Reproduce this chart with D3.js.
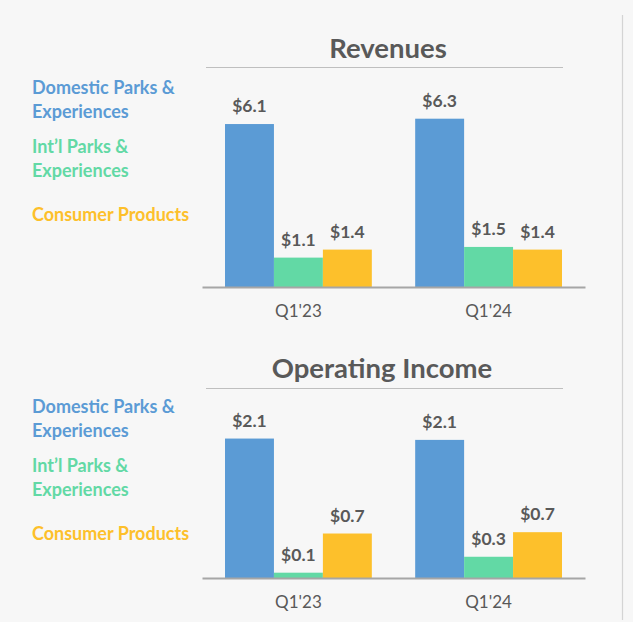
<!DOCTYPE html>
<html><head><meta charset="utf-8">
<script src="https://cdn.jsdelivr.net/npm/d3@7/dist/d3.min.js"></script>
<style>
html,body{margin:0;padding:0;background:#f7f7f7;}
svg{display:block;font-family:Lato,"Open Sans",sans-serif;}
</style></head>
<body>
<svg id="c" width="633" height="622"></svg>
<script>
const categories = ["Q1'23", "Q1'24"];
const seriesKeys = ["domestic", "intl", "consumer"];
const legendLines = [["Domestic Parks &", "Experiences"], ["Int\u2019l Parks &", "Experiences"], ["Consumer Products"]];
const seriesColors = ["#5b9bd5", "#62d9a5", "#fdc02b"];
const legendColors = ["#5b9bd5", "#62d9a5", "#fdc02b"];

const revenueDomestic = [6.1, 6.3];
const revenueIntl = [1.1, 1.5];
const revenueConsumer = [1.4, 1.4];

const opIncomeDomestic = [2.1, 2.08];
const opIncomeIntl = [0.08, 0.32];
const opIncomeConsumer = [0.67, 0.69];

const panels = [
  {title: "Revenues", titleX: 388, titleY: 58, lineY: 67, legendY: 94, axisY: 287, yMax: 7, yTop: 100,
   values: [revenueDomestic, revenueIntl, revenueConsumer]},
  {title: "Operating Income", titleX: 382, titleY: 378, lineY: 388, legendY: 413, axisY: 578, yMax: 2.5, yTop: 412,
   values: [opIncomeDomestic, opIncomeIntl, opIncomeConsumer]}
];

const svg = d3.select("#c");
const textColor = "#595959";
const fmt = v => "$" + d3.format(".1f")(v);

// right divider
svg.append("line").attr("x1", 622.5).attr("x2", 622.5).attr("y1", 15).attr("y2", 620)
  .attr("stroke", "#d4d4d4").attr("stroke-width", 1.2);

const x0 = d3.scaleBand().domain(categories).range([202, 585]).paddingInner(0.228).paddingOuter(0.121);
const x1 = d3.scaleBand().domain(seriesKeys).range([0, x0.bandwidth()]).padding(0);

panels.forEach(p => {
  const g = svg.append("g");
  const y = d3.scaleLinear().domain([0, p.yMax]).range([p.axisY, p.yTop]);

  g.append("text").attr("x", p.titleX).attr("y", p.titleY).attr("text-anchor", "middle")
    .attr("font-size", 27.5).attr("font-weight", 700).attr("fill", textColor).text(p.title);
  g.append("line").attr("x1", 206).attr("x2", 563).attr("y1", p.lineY + 0.5).attr("y2", p.lineY + 0.5)
    .attr("stroke", "#bfbfbf").attr("stroke-width", 1);

  // legend
  const legendOffsets = [0, 59, 127];
  legendLines.forEach((lines, i) => {
    const t = g.append("text").attr("x", 32).attr("y", p.legendY + legendOffsets[i])
      .attr("font-size", 18).attr("font-weight", 700).attr("fill", legendColors[i]);
    lines.forEach((ln, j) => t.append("tspan").attr("x", 32).attr("dy", j === 0 ? 0 : 23.7).text(ln));
  });

  const rows = categories.map((c, ci) => ({cat: c, vals: seriesKeys.map((k, si) => ({key: k, si, v: p.values[si][ci]}))}));
  const grp = g.selectAll(".grp").data(rows).join("g").attr("transform", d => `translate(${x0(d.cat)},0)`);
  grp.selectAll("rect").data(d => d.vals).join("rect")
    .attr("x", d => x1(d.key)).attr("width", x1.bandwidth())
    .attr("y", d => y(d.v)).attr("height", d => y(0) - y(d.v))
    .attr("fill", d => seriesColors[d.si]);
  grp.selectAll("text.val").data(d => d.vals).join("text").attr("class", "val")
    .attr("x", d => x1(d.key) + x1.bandwidth() / 2).attr("y", d => y(d.v) - 12)
    .attr("text-anchor", "middle").attr("font-size", 17.5).attr("font-weight", 700).attr("fill", textColor)
    .text(d => fmt(d.v));

  const ax = g.append("g").attr("transform", `translate(0,${p.axisY})`)
    .call(d3.axisBottom(x0).tickSize(0).tickSizeOuter(0).tickPadding(18));
  ax.select(".domain").attr("stroke", "#a6a6a6").attr("stroke-width", 2);
  ax.selectAll(".tick text").attr("font-size", 17).attr("fill", textColor)
    .attr("font-family", "Lato, 'Open Sans', sans-serif");
});
</script>
</body></html>
